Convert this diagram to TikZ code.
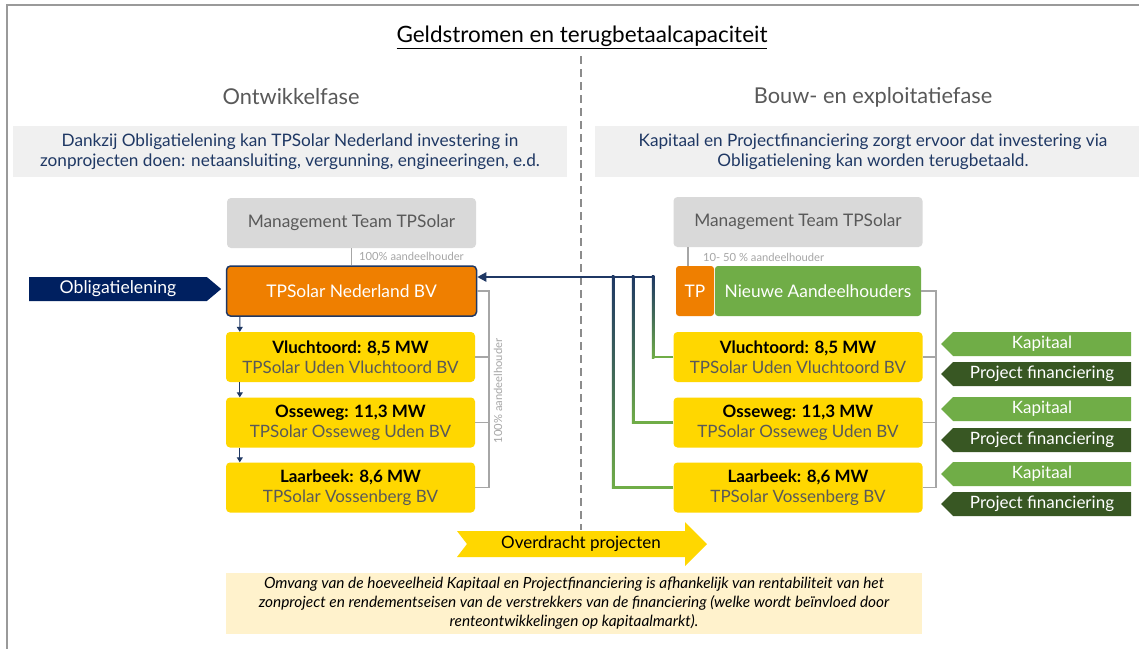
\documentclass[tikz,border=0pt]{standalone}
\usepackage{fontspec}
\setmainfont{Lato}
\usetikzlibrary{arrows.meta,shapes.symbols,calc}
\definecolor{navy}{HTML}{002060}
\definecolor{cnavy}{HTML}{1F3864}
\definecolor{orng}{HTML}{EF7F00}
\definecolor{gold}{HTML}{FFD700}
\definecolor{lgreen}{HTML}{70AD47}
\definecolor{dgreen}{HTML}{385723}
\definecolor{txtgray}{HTML}{595959}
\definecolor{lgray}{HTML}{A6A6A6}
\definecolor{band}{HTML}{F0F0F0}
\definecolor{mtgray}{HTML}{D9D9D9}
\definecolor{notebg}{HTML}{FFF2CC}
\definecolor{framec}{HTML}{9A9A9A}
\definecolor{dashc}{HTML}{8C8C8C}
\begin{document}
\begin{tikzpicture}[x=1pt,y=-1pt,
  box/.style={rounded corners=4pt, minimum width=249pt, minimum height=50pt, inner sep=0pt, align=center},
  mtbox/.style={box, fill=mtgray, text=txtgray, font=\fontsize{17.3}{20}\selectfont},
  proj/.style={box, fill=gold, font=\fontsize{17}{20}\selectfont},
  bandbox/.style={fill=band, inner sep=0pt, minimum height=51pt, align=center, text=cnavy, font=\fontsize{17.2}{20}\selectfont},
  sig/.style={signal, signal to=west, signal pointer angle=90, minimum width=190pt, minimum height=24pt, inner sep=0pt, text=white, font=\fontsize{17}{18}\selectfont},
  gline/.style={draw=lgray, line width=1.5pt},
  small/.style={text=lgray, font=\fontsize{11.2}{13}\selectfont, inner sep=0pt},
  smallarr/.style={draw=cnavy, line width=1pt, -{Triangle[length=5pt,width=6pt]}},
  conn/.style={draw=lgreen, line width=2.5pt},
  phase/.style={text=txtgray, font=\fontsize{21.8}{24}\selectfont}
]
\useasboundingbox (0,0) rectangle (1139,649);
\fill[white] (0,0) rectangle (1139,649);
% frame
\draw[framec, line width=2pt] (1139,5) -- (7,5) -- (7,649);
% title
\node[font=\fontsize{22.5}{26}\selectfont] (title) at (582,37) {\underline{Geldstromen en terugbetaalcapaciteit}};
% dashed divider
\draw[dashc, line width=2pt, dash pattern=on 8pt off 5pt] (581,56) -- (581,530);
% phases
\node[phase] (ph1) at (291,97) {Ontwikkelfase};
\node[phase] (ph2) at (873,97) {Bouw- en exploitatiefase};
% bands
\node[bandbox, minimum width=554pt] (b1) at (290,151.5) {Dankzij Obligatielening kan TPSolar Nederland investering in\\zonprojecten doen: netaansluiting, vergunning, engineeringen, e.d.};
\node[bandbox, minimum width=556pt] (b2) at (873,151.5) {Kapitaal en Projectfinanciering zorgt ervoor dat investering via\\Obligatielening kan worden terugbetaald.};

% ---------- left column
\node[mtbox] (mt1) at (351.5,223) {Management Team TPSolar};
\node[box, fill=orng, draw=cnavy, line width=1.5pt, text=white, font=\fontsize{17.4}{20}\selectfont, minimum width=250pt] (nl) at (351.5,291) {TPSolar Nederland BV};
\draw[gline] (mt1.south) -- (nl.north);
\node[small, anchor=west] (lab1) at (359,256) {100\% aandeelhouder};

\node[signal, signal to=east, signal pointer angle=80, fill=navy, text=white, minimum width=192pt, minimum height=24pt, inner sep=0pt, font=\fontsize{17.6}{18}\selectfont] (obl) at (118,289) {Obligatielening};

\node[proj] (l1) at (350.5,357) {{\bfseries Vluchtoord: 8,5 MW}\\\textcolor{txtgray}{TPSolar Uden Vluchtoord BV}};
\node[proj] (l2) at (350.5,422.5) {{\bfseries Osseweg: 11,3 MW}\\\textcolor{txtgray}{TPSolar Osseweg Uden BV}};
\node[proj] (l3) at (350.5,487.5) {{\bfseries Laarbeek: 8,6 MW}\\\textcolor{txtgray}{TPSolar Vossenberg BV}};

\draw[smallarr] ($(nl.south west)+(14,0)$) -- ($(l1.north west)+(14,0)$);
\draw[smallarr] ($(l1.south west)+(14,0)$) -- ($(l2.north west)+(14,0)$);
\draw[smallarr] ($(l2.south west)+(14,0)$) -- ($(l3.north west)+(14,0)$);

\coordinate (bl) at (489,291);
\draw[gline] (nl.east) -- (bl) |- (l3.east);
\draw[gline] (l1.east) -- (l1.east -| bl);
\draw[gline] (l2.east) -- (l2.east -| bl);
\node[small, rotate=90] (lab2) at (498,391) {100\% aandeelhouder};

% ---------- right column
\node[mtbox] (mt2) at (798,222) {Management Team TPSolar};
\node[rounded corners=3pt, fill=orng, text=white, minimum width=38pt, minimum height=50pt, inner sep=0pt, font=\fontsize{17.3}{20}\selectfont] (tp) at (695,291) {TP};
\node[rounded corners=3pt, fill=lgreen, text=white, minimum width=206pt, minimum height=50pt, inner sep=0pt, font=\fontsize{17.3}{20}\selectfont] (na) at (818,291) {Nieuwe Aandeelhouders};
\draw[gline] (tp.north -| 688,0) -- (mt2.south -| 688,0);
\node[small, anchor=west] (lab3) at (703,257) {10- 50 \% aandeelhouder};

\node[proj] (r1) at (798,357) {{\bfseries Vluchtoord: 8,5 MW}\\\textcolor{txtgray}{TPSolar Uden Vluchtoord BV}};
\node[proj] (r2) at (798,422.5) {{\bfseries Osseweg: 11,3 MW}\\\textcolor{txtgray}{TPSolar Osseweg Uden BV}};
\node[proj] (r3) at (798,487.5) {{\bfseries Laarbeek: 8,6 MW}\\\textcolor{txtgray}{TPSolar Vossenberg BV}};

\coordinate (br) at (936,291);
\draw[gline] (na.east) -- (br) |- (r3.east);
\draw[gline] (r1.east) -- (r1.east -| br);
\draw[gline] (r2.east) -- (r2.east -| br);

% Kapitaal / Projectfinanciering
\node[sig, fill=lgreen] (k1) at (1042,344) {Kapitaal};
\node[sig, fill=dgreen] (f1) at (1042,374) {Project financiering};
\node[sig, fill=lgreen] (k2) at (1042,409) {Kapitaal};
\node[sig, fill=dgreen] (f2) at (1042,440) {Project financiering};
\node[sig, fill=lgreen] (k3) at (1042,474) {Kapitaal};
\node[sig, fill=dgreen] (f3) at (1042,504) {Project financiering};

% money flow connectors
\coordinate (j1) at (653,277);
\coordinate (j2) at (633,277);
\coordinate (j3) at (613,277);
\draw[conn] (r1.west) -| (j1);
\draw[conn] (r2.west) -| (j2);
\draw[conn] (r3.west) -| (j3);
\shade[top color=cnavy, bottom color=lgreen, middle color=cnavy!55!lgreen] ($(j1)+(-1.25,-1.25)$) rectangle ($(j1 |- r1.west)+(1.25,1.25)$);
\shade[top color=cnavy, bottom color=lgreen, middle color=cnavy!55!lgreen] ($(j2)+(-1.25,-1.25)$) rectangle ($(j2 |- r2.west)+(1.25,1.25)$);
\shade[top color=cnavy, bottom color=lgreen, middle color=cnavy!55!lgreen] ($(j3)+(-1.25,-1.25)$) rectangle ($(j3 |- r3.west)+(1.25,1.25)$);
\draw[draw=cnavy, line width=2.5pt, -{Triangle[length=9pt,width=9pt]}] ($(j1)+(1.25,0)$) -- (j1 -| nl.east);

% Overdracht projecten
\fill[gold] (457,531) -- (685,531) -- (685,522) -- (707,544) -- (685,566) -- (685,557) -- (457,557) -- (467,544) -- cycle;
\node[font=\fontsize{17}{18}\selectfont] (ov) at (581,544) {Overdracht projecten};

% note
\node[fill=notebg, minimum width=696pt, minimum height=61pt, inner sep=0pt, align=center, font=\fontsize{15.4}{19}\itshape] (note) at (574,603.5) {Omvang van de hoeveelheid Kapitaal en Projectfinanciering is afhankelijk van rentabiliteit van het\\zonproject en rendementseisen van de verstrekkers van de financiering (welke wordt beïnvloed door\\renteontwikkelingen op kapitaalmarkt).};
\end{tikzpicture}
\end{document}
